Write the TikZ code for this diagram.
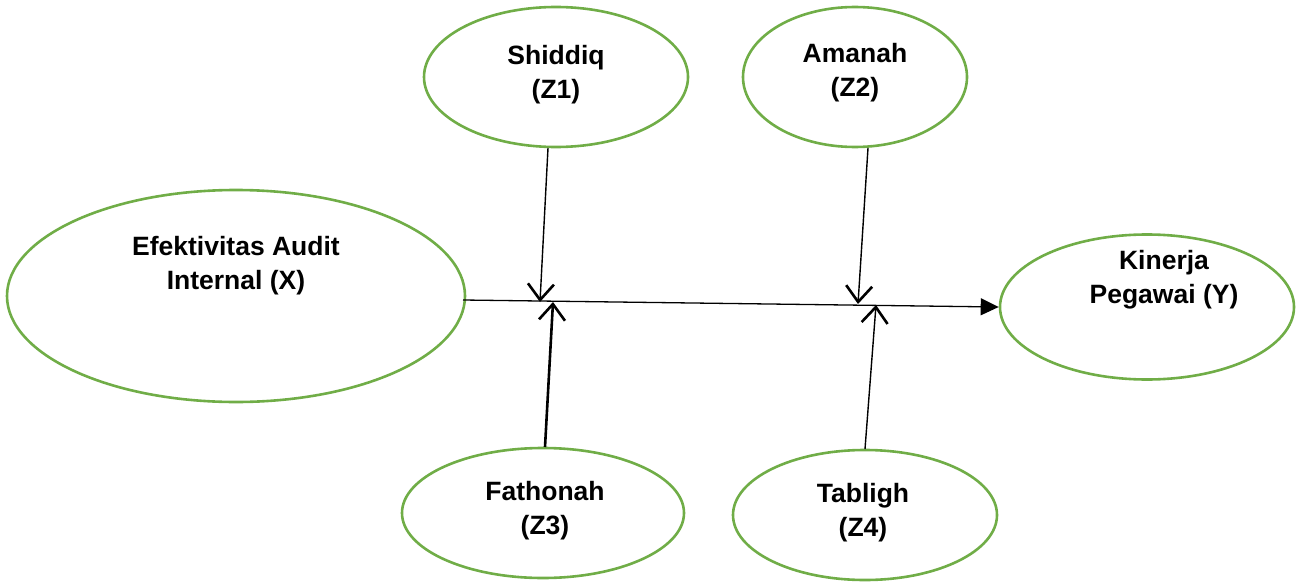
\documentclass[tikz,border=0pt]{standalone}
\usepackage{fontspec}
\setmainfont{Liberation Sans}
\usetikzlibrary{arrows.meta,shapes.geometric}
\definecolor{vgreen}{HTML}{70AD47}
\begin{document}
\begin{tikzpicture}[x=1pt,y=-1pt,
  var/.style={draw=vgreen,line width=2.6pt,ellipse,inner sep=0pt},
  lbl/.style={align=center,font=\bfseries\fontsize{26.5}{34}\selectfont},
  mod/.style={line width=1.4pt,-{Straight Barb[length=16pt,width=26pt,line width=2.6pt]}},
  main/.style={line width=1.3pt,-{Triangle[length=18pt,width=17pt]}}]
\useasboundingbox (0,0) rectangle (1301,586);
\node[var,minimum width=264pt,minimum height=140pt] (z1) at (556,77) {};
\node[var,minimum width=224pt,minimum height=140pt] (z2) at (855,77) {};
\node[var,minimum width=458pt,minimum height=212pt] (x) at (236,296) {};
\node[var,minimum width=294pt,minimum height=145pt] (y) at (1147,307) {};
\node[var,minimum width=282pt,minimum height=130pt] (z3) at (543,513) {};
\node[var,minimum width=264pt,minimum height=130pt] (z4) at (865,515) {};
\node[lbl] (tz1) at (556,75) {Shiddiq\\(Z1)};
\node[lbl] (tz2) at (855,73) {Amanah\\(Z2)};
\node[lbl] (tx) at (236,266) {Efektivitas Audit\\Internal (X)};
\node[lbl] (ty) at (1164,280) {Kinerja\\Pegawai (Y)};
\node[lbl] (tz3) at (545,511) {Fathonah\\(Z3)};
\node[lbl] (tz4) at (863,513) {Tabligh\\(Z4)};
\coordinate (xs) at (463,300);
\coordinate (p1) at (540,302);
\coordinate (p3) at (553,302);
\coordinate (p2) at (858,304);
\coordinate (p4) at (876,305);
\coordinate (z1s) at (548,148);
\coordinate (z2s) at (868,148);
\coordinate (z3n) at (545,447);
\coordinate (z4n) at (865,449);
\draw[main] (xs) -- (y.west);
\draw[mod] (z1s) -- (p1);
\draw[mod] (z2s) -- (p2);
\draw[mod,line width=2.6pt] (z3n) -- (p3);
\draw[mod] (z4n) -- (p4);
\end{tikzpicture}
\end{document}
